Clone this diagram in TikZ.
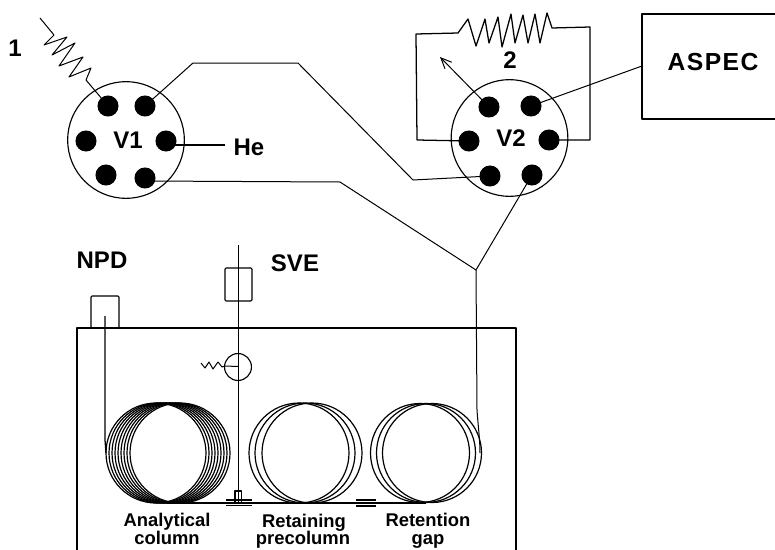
\documentclass[tikz,border=0pt]{standalone}
\usepackage{fontspec}
\setmainfont{Liberation Sans}
\usetikzlibrary{arrows.meta}
\tikzset{
  wire/.style={line width=0.95pt,black,line join=round},
  thin wire/.style={line width=0.75pt,black,line join=round},
  coil/.style={line width=0.9pt,black},
  port/.style={circle,fill=black,draw=none,minimum size=15.8pt,inner sep=0pt},
  lab/.style={font=\bfseries\fontsize{18}{18}\selectfont,inner sep=0pt,anchor=center},
  small lab/.style={font=\bfseries\fontsize{13.8}{13.8}\selectfont,inner sep=0pt,anchor=base},
  valve/.style={circle,draw=black,line width=0.85pt,minimum size=87.5pt,inner sep=0pt},
  box/.style={draw=black,line width=0.85pt,rounded corners=0.8pt,inner sep=0pt},
}
\begin{document}
\begin{tikzpicture}[x=0.75pt,y=-0.75pt]
\useasboundingbox (0,0) rectangle (775,550);
% oven
\coordinate (ovbl) at (77,551);
\coordinate (ovbr) at (516,551);
\draw[wire] (ovbl) -- (77,328) -- (516,328) -- (ovbr);
% NPD and SVE boxes
\node[box,minimum width=21pt,minimum height=24pt] (npdbox) at (105,312) {};
\node[box,minimum width=20.2pt,minimum height=24.7pt] (svebox) at (238.5,284.5) {};
\node[circle,draw=black,line width=0.85pt,minimum size=20.2pt,inner sep=0pt] (valve3) at (238,367) {};
% coils
\foreach \c in {156,159,162,165,168,171,174,177,180} \draw[coil] (\c,453) circle [radius=50];
\foreach \c in {299,305,312} \draw[coil] (\c,453) circle [radius=50];
\foreach \c in {420,426,432} \draw[coil] (\c,453) circle [radius=49.5];
% valves
\node[valve] (V1c) at (126,140) {};
\node[valve] (V2c) at (509.5,138) {};
\node[port] (a1) at (108,106) {};
\node[port] (a2) at (145,106) {};
\node[port] (a3) at (86,141) {};
\node[port] (a4) at (166,141) {};
\node[port] (a5) at (106,175) {};
\node[port] (a6) at (145,178) {};
\node[port] (b1) at (489,107) {};
\node[port] (b2) at (531,106) {};
\node[port] (b3) at (469,141) {};
\node[port] (b4) at (549,140) {};
\node[port] (b5) at (490,176) {};
\node[port] (b6) at (532,175) {};
% labels
\node[lab] (V1) at (128,140) {V1};
\node[lab] (V2) at (511,138) {V2};
\node[lab] (He) at (249,147) {He};
\node[lab] (one) at (15,48) {1};
\node[lab] (two) at (510,60) {2};
\node[lab] (npd) at (102,260) {NPD};
\node[lab] (sve) at (295,263) {SVE};
\node[lab,font=\bfseries\fontsize{18.5}{18.5}\selectfont\addfontfeature{LetterSpace=6}] (aspec) at (713,62) {ASPEC};
\node[small lab] (l1a) at (167,526) {Analytical};
\node[small lab] (l1b) at (167,544) {column};
\node[small lab] (l2a) at (304,527) {Retaining};
\node[small lab] (l2b) at (303,544) {precolumn};
\node[small lab] (l3a) at (428,526) {Retention};
\node[small lab] (l3b) at (428,544) {gap};
% ASPEC box (runs off the right side)
\coordinate (asr1) at (776,14);
\coordinate (asr2) at (776,119);
\coordinate (asin) at (642,66);
\draw[wire] (asr1) -- (642,14) -- (642,119) -- (asr2);
\draw[thin wire] (asin) -- (b2.center);
% connections
\coordinate (r1s) at (40,18);
\draw[thin wire] (r1s) -- (54,35) -- (44,45) -- (67,37) -- (52,55) -- (75,43) -- (59,66) -- (83,57) -- (69,77) -- (91,68) -- (86,80) -- (a1.center);
\coordinate (heend) at (225,145);
\draw[wire] (a4.center) -- (166,145) -- (heend);
\draw[thin wire] (a2.center) -- (193,63) -- (298,63) -- (413,180) -- (b5.center);
\coordinate (junc) at (476,270);
\draw[thin wire] (a6.center) -- (145,181) -- (340,182) -- (junc);
\draw[thin wire] (b6.center) -- (junc);
\draw[thin wire] (junc) -- (477,410) .. controls (478,425) and (480,440) .. (480,453);
\coordinate (arrowend) at (440,57);
\draw[thin wire,-{Straight Barb[length=8pt,width=7pt]}] (b1.center) -- (arrowend);
\draw[wire] (b3.center) -- (417,140) -- (416,34) -- (458,33) -- (468,19) -- (476,46) -- (485,19) -- (489,43) -- (498,17) -- (502,47) -- (511,14) -- (515,43) -- (523,15) -- (528,43) -- (535,14) -- (540,43) -- (547,13) -- (552,28) -- (590,27) -- (590,140) -- (b4.center);
% NPD capillary
\coordinate (npdend) at (105,316);
\coordinate (coil1l) at (106,453);
\draw[wire] (npdend) -- (105,440) -- (coil1l);
% SVE line and valve
\coordinate (svetop) at (238,245);
\coordinate (svebot) at (238,503);
\draw[thin wire] (svetop) -- (svebot);
\coordinate (r3s) at (201,363);
\draw[thin wire] (r3s) -- (205,368) -- (209,362) -- (213,369) -- (218,362) -- (222,367) -- (225,366) -- (238,366.5);
% base line and connectors
\coordinate (basel) at (167,503);
\coordinate (baser) at (426,503);
\draw[wire] (basel) -- (baser);
\coordinate (t1a) at (226,500);
\coordinate (t1b) at (252,500);
\coordinate (t2a) at (226,505.5);
\coordinate (t2b) at (252,505.5);
\coordinate (t3a) at (356,500);
\coordinate (t3b) at (376,500);
\coordinate (t4a) at (356,506);
\coordinate (t4b) at (376,506);
\draw[wire] (t1a) -- (t1b) (t2a) -- (t2b) (t3a) -- (t3b) (t4a) -- (t4b);
\draw[wire] (235,503) -- (235,491) -- (241.5,491) -- (241.5,503);
\end{tikzpicture}
\end{document}
